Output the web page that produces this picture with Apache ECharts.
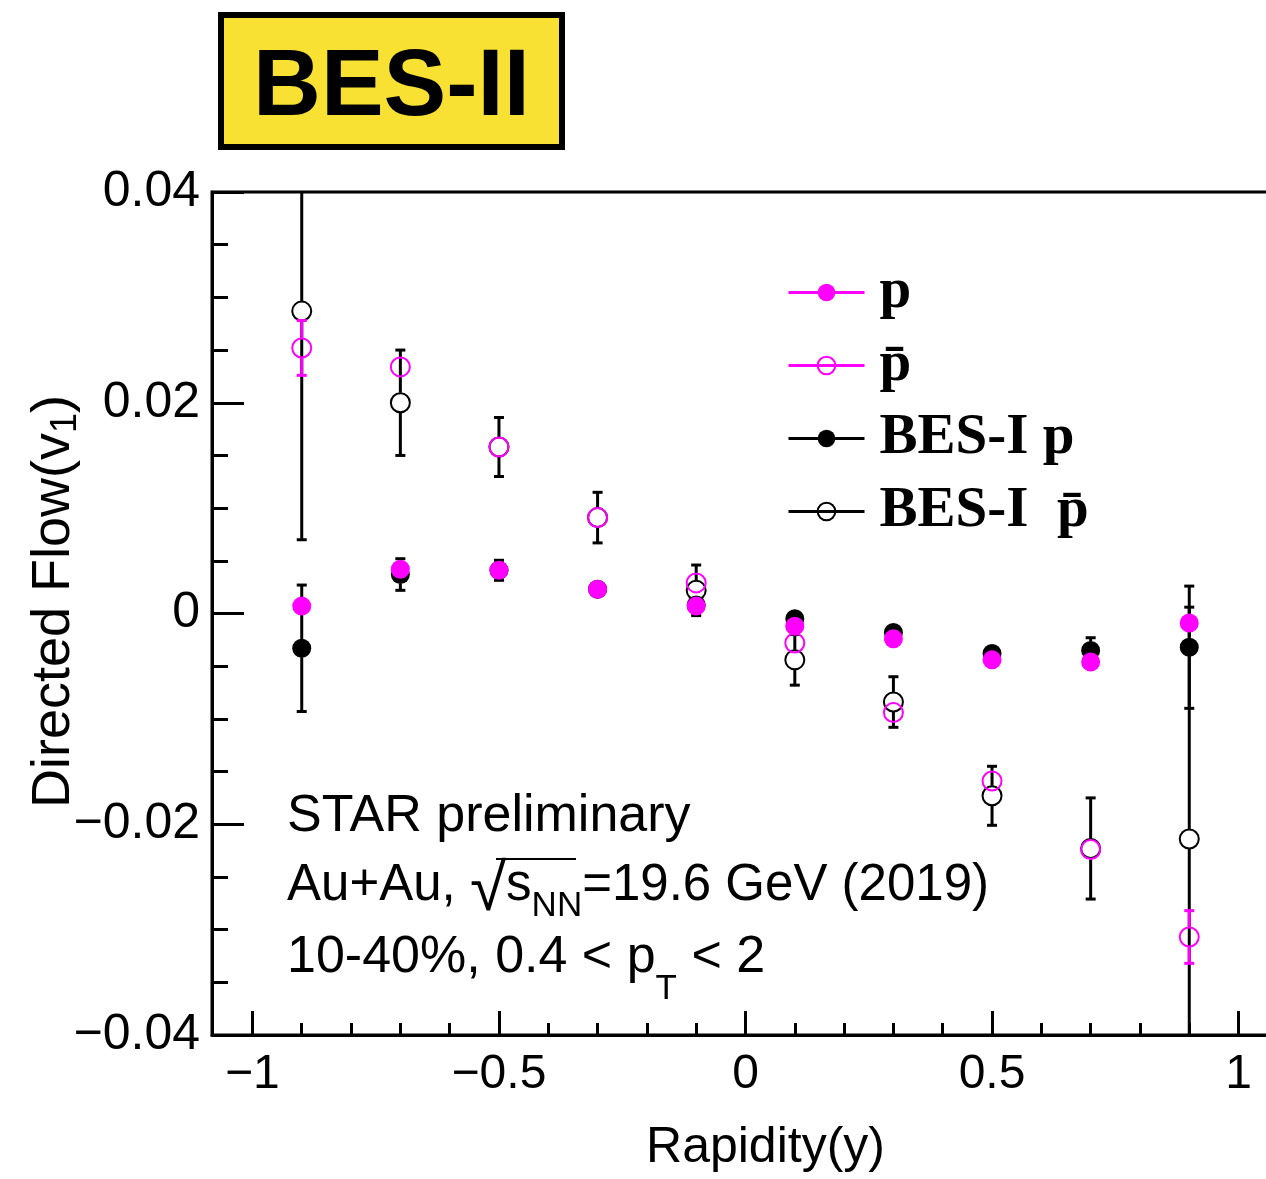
<!DOCTYPE html>
<html><head><meta charset="utf-8">
<script src="https://cdn.jsdelivr.net/npm/echarts@6/dist/echarts.min.js"></script>
<style>html,body{margin:0;padding:0;background:#fff}#c{width:1266px;height:1179px}</style>
</head><body><div id="c"></div>
<script>
// ---------------- data ----------------
const rapidity = [-0.9, -0.7, -0.5, -0.3, -0.1, 0.1, 0.3, 0.5, 0.7, 0.9];
const pV1      = [0.0007, 0.0042, 0.0041, 0.0023, 0.0007, -0.0012, -0.0024, -0.0044, -0.0046, -0.0009];
const pErr     = [0.0008, 0.0008, 0.0008, 0.0006, 0.0008, 0.0008, 0.0008, 0.0008, 0.0008, 0.0008];
const pbarV1   = [0.0252, 0.0234, 0.0158, 0.0091, 0.0029, -0.0028, -0.0094, -0.0159, -0.0224, -0.0307];
const pbarErr  = [0.0026, 0.0009, 0.0009, 0.0009, 0.0009, 0.0009, 0.0009, 0.0009, 0.0009, 0.0025];
const besPV1   = [-0.0033, 0.0037, 0.0041, 0.0023, 0.0008, -0.0005, -0.0018, -0.0038, -0.0035, -0.0032];
const besPErr  = [0.0060, 0.0015, 0.00095, 0.0008, 0.0008, 0.0008, 0.0008, 0.0008, 0.0012, 0.0058];
const besPbarV1  = [0.0287, 0.0200, 0.0158, 0.0091, 0.0022, -0.0044, -0.0084, -0.0173, -0.0223, -0.0214];
const besPbarErr = [0.0217, 0.0050, 0.0028, 0.0024, 0.0024, 0.0024, 0.0024, 0.0028, 0.0048, 0.0220];

const seriesNames = ['p', 'p\u0304', 'BES-I p', 'BES-I  p\u0304'];
const xMajorTicks = [-1, -0.5, 0, 0.5, 1];
const xTickLabels = ['\u22121', '\u22120.5', '0', '0.5', '1'];
const xMinorTicks = [-1, -0.9, -0.8, -0.7, -0.6, -0.5, -0.4, -0.3, -0.2, -0.1, 0, 0.1, 0.2, 0.3, 0.4, 0.5, 0.6, 0.7, 0.8, 0.9, 1];
const yTickLabels = {'0.04': '0.04', '0.02': '0.02', '0': '0', '-0.02': '\u22120.02', '-0.04': '\u22120.04'};

// ---------------- styles ----------------
const MAG = '#ff00ff', BLK = '#000000';
const SANS = '"Liberation Sans", Arial, Helvetica, sans-serif';
const SERIF = '"Liberation Serif", "Times New Roman", serif';

function pts(vals, errs) { return rapidity.map((x, i) => [x, vals[i], errs[i]]); }

function errSeries(name, vals, errs, color, gapR, z) {
  return {
    type: 'custom', name: name + ' err', xAxisIndex: 0, yAxisIndex: 0, z: z, silent: true,
    data: pts(vals, errs),
    renderItem: function (params, api) {
      const x = api.value(0), v = api.value(1), e = api.value(2);
      const c = api.coord([x, v]), hi = api.coord([x, v + e]), lo = api.coord([x, v - e]);
      const cs = params.coordSys, top = cs.y, bot = cs.y + cs.height;
      const st = { stroke: color, lineWidth: 3 };
      const ch = [];
      const yHi = Math.max(hi[1], top), yLo = Math.min(lo[1], bot);
      if (yHi < c[1] - gapR) ch.push({ type: 'line', shape: { x1: c[0], y1: yHi, x2: c[0], y2: c[1] - gapR }, style: st });
      if (yLo > c[1] + gapR) ch.push({ type: 'line', shape: { x1: c[0], y1: c[1] + gapR, x2: c[0], y2: yLo }, style: st });
      if (hi[1] >= top && hi[1] < c[1] - gapR) ch.push({ type: 'line', shape: { x1: c[0] - 5, y1: hi[1], x2: c[0] + 5, y2: hi[1] }, style: st });
      if (lo[1] <= bot && lo[1] > c[1] + gapR) ch.push({ type: 'line', shape: { x1: c[0] - 5, y1: lo[1], x2: c[0] + 5, y2: lo[1] }, style: st });
      return { type: 'group', children: ch };
    }
  };
}

function markerSeries(name, vals, errs, color, open, z) {
  return {
    type: 'line', name: name, z: z, xAxisIndex: 0, yAxisIndex: 0,
    data: pts(vals, errs),
    symbol: 'circle', symbolSize: 19, showSymbol: true,
    itemStyle: open ? { color: 'rgba(255,255,255,0)', borderColor: color, borderWidth: 2 } : { color: color, borderWidth: 0 },
    lineStyle: { color: color, width: 3, opacity: 0 },
    emphasis: { disabled: true }, animation: false
  };
}

const option = {
  animation: false,
  backgroundColor: '#ffffff',
  title: [{
    text: 'BES-II', left: 221, top: 15,
    backgroundColor: '#f8e132', borderColor: '#000', borderWidth: 6,
    padding: [27, 32, 10, 32],
    textStyle: { fontFamily: SANS, fontWeight: 'bold', fontSize: 94, lineHeight: 95, color: '#000' }
  }],
  legend: {
    orient: 'vertical', left: 782, top: 259, itemWidth: 76, itemHeight: 22, itemGap: 16,
    data: seriesNames,
    lineStyle: { opacity: 1, width: 3 },
    textStyle: { fontFamily: SERIF, fontWeight: 'bold', fontSize: 57, lineHeight: 54, color: '#000', padding: [0, 0, 0, 10] },
    selectedMode: false
  },
  grid: { left: 212, width: 1067, top: 192, bottom: 144, show: true, borderColor: '#000', borderWidth: 3,
    containLabel: false, outerBoundsMode: 'none' },
  xAxis: [{
    type: 'value', min: -1.082, max: 1.082, position: 'bottom',
    axisLine: { show: true, onZero: false, lineStyle: { color: '#000', width: 3 } },
    axisTick: { show: true, inside: true, length: 24, customValues: xMajorTicks, lineStyle: { color: '#000', width: 3 } },
    axisLabel: { show: true, customValues: xMajorTicks, margin: 16, color: '#000', fontFamily: SANS, fontSize: 48,
      formatter: function (v) { const i = xMajorTicks.indexOf(v); return i >= 0 ? xTickLabels[i] : ''; } },
    splitLine: { show: false },
    name: 'Rapidity(y)', nameLocation: 'middle', nameGap: 88, nameMoveOverlap: false,
    nameTextStyle: { fontFamily: SANS, fontSize: 50, color: '#000', padding: [0, 0, 0, 40] }
  }, {
    type: 'value', min: -1.082, max: 1.082, position: 'bottom',
    axisLine: { show: false, onZero: false },
    axisTick: { show: true, inside: true, length: 12, customValues: xMinorTicks, lineStyle: { color: '#000', width: 3 } },
    axisLabel: { show: false }, splitLine: { show: false }
  }],
  yAxis: [{
    type: 'value', min: -0.04, max: 0.04, interval: 0.02, position: 'left',
    axisLine: { show: true, onZero: false, lineStyle: { color: '#000', width: 3 } },
    axisTick: { show: true, inside: true, length: 32, lineStyle: { color: '#000', width: 3 } },
    minorTick: { show: true, splitNumber: 4, length: 16, lineStyle: { color: '#000', width: 3 } },
    axisLabel: { margin: 12, color: '#000', fontFamily: SANS, fontSize: 50,
      formatter: function (v) { const k = String(+v.toFixed(3)); return yTickLabels[k] !== undefined ? yTickLabels[k] : k; } },
    splitLine: { show: false },
    name: 'Directed Flow(v{s|1})', nameLocation: 'middle', nameGap: 128, nameRotate: 90, nameMoveOverlap: false,
    nameTextStyle: { fontFamily: SANS, fontSize: 54, lineHeight: 60, color: '#000', padding: [0, 0, 0, 24],
      rich: { s: { fontFamily: SANS, fontSize: 36, lineHeight: 30, padding: [24, 0, 0, 0] } } }
  }],
  graphic: [
    { type: 'text', x: 287, y: 817, z: 100,
      style: { text: 'STAR preliminary', font: '52px ' + SANS, fill: '#000', verticalAlign: 'middle', align: 'left' } },
    { type: 'text', x: 287, y: 886, z: 100,
      style: {
        text: '{a|Au+Au, }{r|\u221a}{a|s}{b|NN}{a|=19.6 GeV (2019)}',
        verticalAlign: 'middle', align: 'left', fill: '#000',
        rich: {
          a: { fontFamily: SANS, fontSize: 51, lineHeight: 100, verticalAlign: 'middle', fill: '#000' },
          r: { fontFamily: SANS, fontSize: 66, lineHeight: 100, verticalAlign: 'middle', fill: '#000', padding: [12, 0, 0, 0] },
          b: { fontFamily: SANS, fontSize: 35, lineHeight: 35, verticalAlign: 'middle', fill: '#000', padding: [40, 0, 0, 0] }
        }
      } },
    { type: 'line', z: 100, shape: { x1: 496, y1: 859, x2: 576, y2: 859 }, style: { stroke: '#000', lineWidth: 2 } },
    { type: 'text', x: 287, y: 958, z: 100,
      style: {
        text: '{a|10-40%, 0.4 < p}{b|T}{a| < 2}',
        verticalAlign: 'middle', align: 'left', fill: '#000',
        rich: {
          a: { fontFamily: SANS, fontSize: 52, lineHeight: 100, verticalAlign: 'middle', fill: '#000' },
          b: { fontFamily: SANS, fontSize: 35, lineHeight: 35, verticalAlign: 'middle', fill: '#000', padding: [62, 0, 0, 0] }
        }
      } }
  ],
  series: [
    errSeries('BES-I p', besPV1, besPErr, BLK, 9, 2),
    errSeries('BES-I pbar', besPbarV1, besPbarErr, BLK, 10, 2),
    markerSeries(seriesNames[2], besPV1, besPErr, BLK, false, 3),
    markerSeries(seriesNames[3], besPbarV1, besPbarErr, BLK, true, 3),
    errSeries('p', pV1, pErr, MAG, 9, 4),
    errSeries('pbar', pbarV1, pbarErr, MAG, 10, 4),
    markerSeries(seriesNames[0], pV1, pErr, MAG, false, 5),
    markerSeries(seriesNames[1], pbarV1, pbarErr, MAG, true, 5)
  ]
};
const chart = echarts.init(document.getElementById('c'), null, { renderer: 'canvas' });
chart.setOption(option);
</script></body></html>
